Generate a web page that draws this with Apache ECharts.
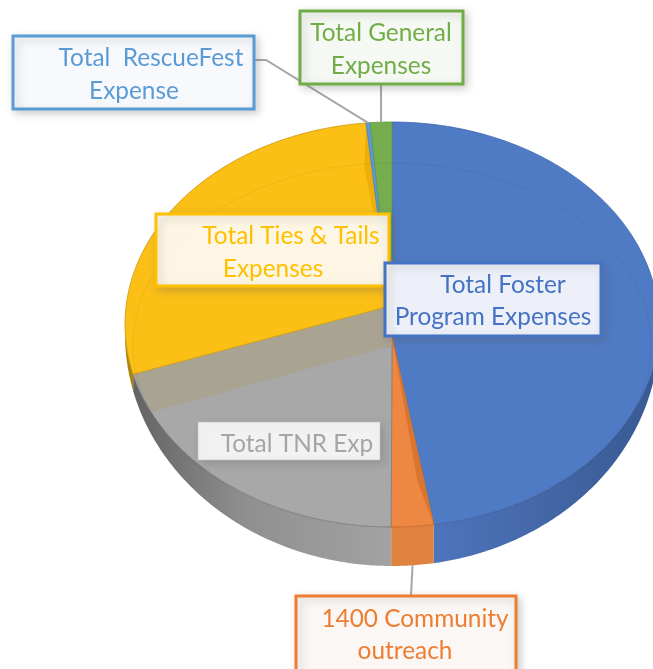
<!DOCTYPE html>
<html>
<head>
<meta charset="utf-8">
<style>
  html, body { margin: 0; padding: 0; background: #fff; }
  #main { width: 653px; height: 669px; }
</style>
<script src="https://cdn.jsdelivr.net/npm/echarts@6/dist/echarts.min.js"></script>
</head>
<body>
<div id="main"></div>
<script>
// slices run clockwise from 12 o'clock
const categories = ['Total Foster Program Expenses', '1400 Community outreach', 'Total TNR Exp',
    'Total Ties & Tails Expenses', 'Total  RescueFest Expense', 'Total General Expenses'];
const shares = [47.5, 2.55, 21, 27.4, 0.25, 1.3];
const sliceColors = ['#4F7AC4', '#ED8741', '#A8A8A8', '#FBBF16', '#5B9BD5', '#76AE4F'];
const edgeColors = ['#3D66AE', '#D2691F', '#7F7F7F', '#C8960C', '#4A7EC0', '#5F9A3E'];

// label boxes: [x, y, w, h], then one [text, centre x, centre y] per line
const labelBoxes = [
    { i: 5, box: [300, 11, 163, 73], color: '#70AD47', fill: 'rgba(247,249,245,0.97)',
        lines: [['Total General', 381, 33], ['Expenses', 381, 66]] },
    { i: 4, box: [13, 36, 241, 73], color: '#5B9BD5', fill: 'rgba(248,250,254,0.97)',
        lines: [['Total  RescueFest', 151, 58], ['Expense', 134, 91]] },
    { i: 3, box: [156, 214, 233, 72], color: '#FFC000', fill: 'rgba(255,250,238,0.95)',
        lines: [['Total Ties & Tails', 291, 236], ['Expenses', 273, 269]] },
    { i: 0, box: [385, 263, 216, 73], color: '#4472C4', fill: 'rgba(245,247,252,0.95)',
        lines: [['Total Foster', 503, 285], ['Program Expenses', 493, 317]] },
    { i: 2, box: [198, 422, 182, 38], color: null, fill: 'rgba(245,245,245,0.97)',
        lines: [['Total TNR Exp', 297, 444]] },
    { i: 1, box: [296, 596, 220, 80], color: '#ED7D31', fill: 'rgba(252,248,246,0.97)',
        lines: [['1400 Community', 415, 619], ['outreach', 405, 651]] }
];
const labelTextColors = ['#4472C4', '#ED7D31', '#A5A5A5', '#FFC000', '#5B9BD5', '#70AD47'];

// leader lines: slice index and where the line meets its label box
const leaders = [
    { i: 4, points: [[254, 60], [266, 60]], wall: false },
    { i: 5, points: [[381, 84]], wall: false },
    { i: 1, points: [[411, 596]], wall: true }
];

// tilted pie geometry, the bottom rim is a deeper ellipse than the top face
const cx = 392, cy = 324.5, rx = 267, ry = 202.5;
const bottomCy = 334, bottomRy = 232;
const total = shares.reduce((a, b) => a + b, 0);
const starts = [];
shares.reduce((sum, v, i) => { starts[i] = sum / total * Math.PI * 2; return sum + v; }, 0);
const endAngle = i => starts[i] + shares[i] / total * Math.PI * 2;

const pt = (a, r) => [cx + rx * r * Math.sin(a), cy - ry * r * Math.cos(a)];
const bottomPt = a => [cx + rx * Math.sin(a), bottomCy - bottomRy * Math.cos(a)];

function arc(a0, a1, fn) {
    const out = [];
    const n = Math.max(2, Math.ceil((a1 - a0) / 0.01));
    for (let k = 0; k <= n; k++) out.push(fn(a0 + (a1 - a0) * k / n, 1));
    return out;
}

function wallFill(i) {
    if (i === 0) return new echarts.graphic.LinearGradient(433, 0, 653, 0, [
        { offset: 0, color: '#4E74BC' }, { offset: 1, color: '#395A92' }], true);
    if (i === 2) return new echarts.graphic.LinearGradient(130, 0, 391, 0, [
        { offset: 0, color: '#626262' }, { offset: 0.45, color: '#909090' }, { offset: 1, color: '#A2A2A2' }], true);
    if (i === 3) return '#A98510';
    return '#E0823F';
}

// the yellow and grey wedges meet on a cut face, so their tips sit above and below the centre
const tipShift = [12, 12, 21, -19, 0, 0];
const cutFaceAngle = 0.2;
const frontFrom = Math.PI / 2, frontTo = Math.PI * 1.5;

function renderSlice(params, api) {
    const i = api.value(0);
    const a0 = starts[i], a1 = endAngle(i);
    const children = [];

    // side wall, only the front half can be seen
    const w0 = Math.max(a0, frontFrom), w1 = Math.min(a1, frontTo);
    if (w1 > w0) {
        children.push({
            type: 'polygon',
            shape: { points: arc(w0, w1, pt).concat(arc(w0, w1, bottomPt).reverse()) },
            style: { fill: wallFill(i) }
        });
    }

    // top face
    const tip = [cx, cy + tipShift[i]];
    children.push({
        type: 'polygon',
        shape: { points: [tip].concat(arc(a0, a1, pt)) },
        style: { fill: sliceColors[i], stroke: edgeColors[i], lineWidth: 0.8 }
    });

    // cut face between grey and yellow
    if (i === 2) {
        children.push({
            type: 'polygon',
            shape: { points: [pt(a1, 1), [cx, cy + tipShift[3]], tip, pt(a1 - cutFaceAngle, 1)] },
            style: { fill: '#A9A392' }
        });
    }

    // darker bevel along the edge nearest the neighbouring slice
    if (i === 1) {
        children.push({
            type: 'polygon',
            shape: { points: [tip, pt(a0 + 0.035, 0.78), pt(a0, 1)] },
            style: { fill: '#D9752F' }
        });
    }
    if (i === 3) {
        children.push({
            type: 'polygon',
            shape: { points: [tip, pt(a1 - 0.035, 0.78), pt(a1, 1)] },
            style: { fill: '#EDAE0A' }
        });
    }
    return { type: 'group', children: children };
}

function renderRing(params, api) {
    return {
        type: 'ellipse',
        shape: { cx: cx, cy: cy + 20.5, rx: rx - 8, ry: ry - 20.5 },
        style: { fill: 'none', stroke: 'rgba(0,0,0,0.05)', lineWidth: 1 }
    };
}

function renderLeader(params, api) {
    const row = leaders[api.value(0)];
    const mid = (starts[row.i] + endAngle(row.i)) / 2;
    const anchor = row.wall ? bottomPt(mid) : pt(mid, 1);
    return {
        type: 'polyline',
        shape: { points: row.points.concat([anchor]) },
        style: { fill: 'none', stroke: '#A6A6A6', lineWidth: 2 }
    };
}

const graphicItems = [];
labelBoxes.forEach(item => {
    graphicItems.push({
        type: 'rect', z: 10,
        shape: { x: item.box[0], y: item.box[1], width: item.box[2], height: item.box[3] },
        style: {
            fill: item.fill,
            stroke: item.color || 'rgba(190,190,190,0.6)',
            lineWidth: item.color ? 3 : 1,
            shadowBlur: 8, shadowOffsetX: 3, shadowOffsetY: 3,
            shadowColor: 'rgba(90,90,90,0.28)'
        }
    });
    item.lines.forEach(line => {
        graphicItems.push({
            type: 'text', z: 11,
            style: {
                text: line[0], x: line[1], y: line[2],
                align: 'center', verticalAlign: 'middle',
                fill: labelTextColors[item.i],
                font: '24.4px Lato'
            }
        });
    });
});

const chart = echarts.init(document.getElementById('main'));
chart.setOption({
    animation: false,
    backgroundColor: '#fff',
    graphic: { elements: graphicItems },
    series: [
        {
            type: 'custom', coordinateSystem: 'none', silent: true, clip: false, z: 1,
            renderItem: renderSlice,
            data: categories.map((name, i) => ({ name: name, value: [i, shares[i]] }))
        },
        {
            type: 'custom', coordinateSystem: 'none', silent: true, clip: false, z: 2,
            renderItem: renderRing,
            data: [[0]]
        },
        {
            type: 'custom', coordinateSystem: 'none', silent: true, clip: false, z: 3,
            renderItem: renderLeader,
            data: leaders.map((row, i) => [i])
        }
    ]
});
</script>
</body>
</html>
